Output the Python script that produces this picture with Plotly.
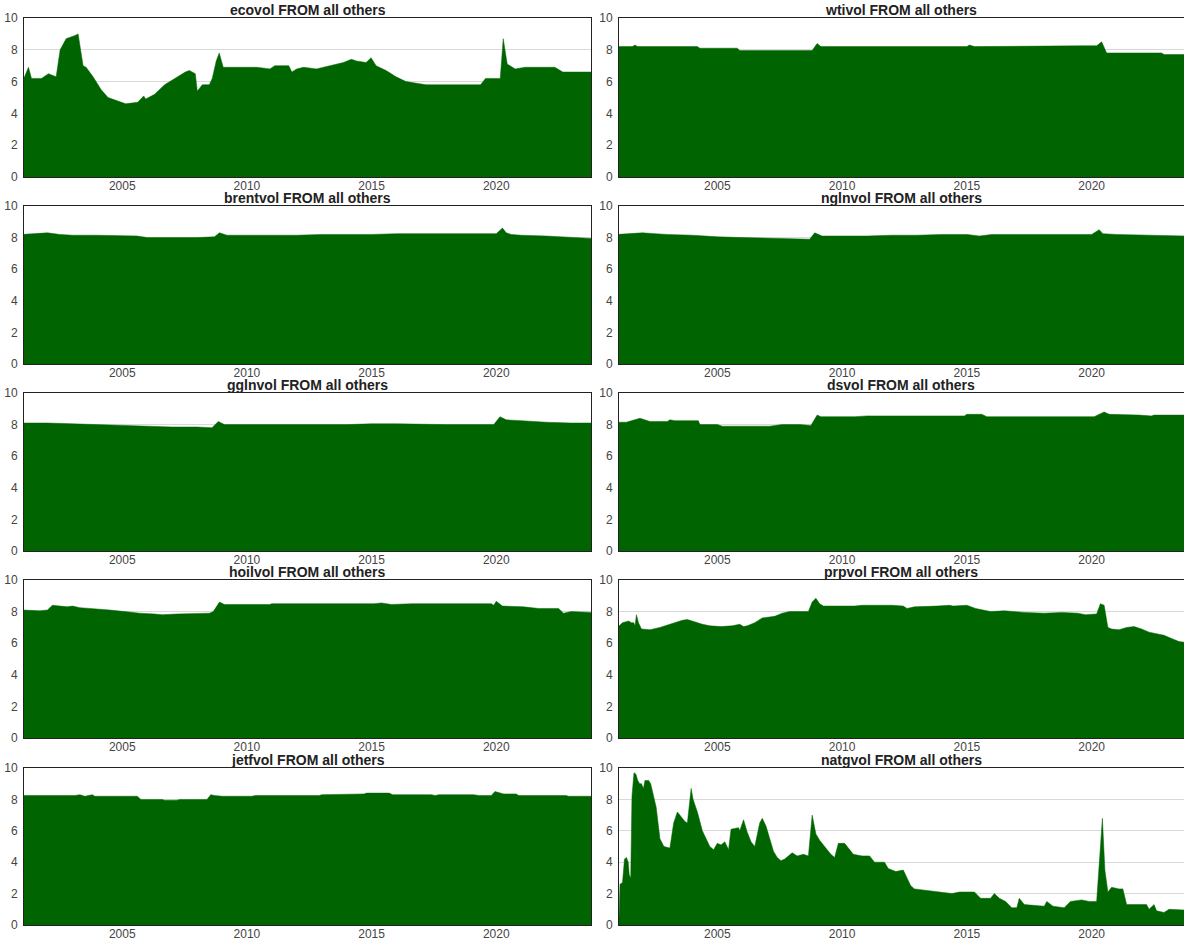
import plotly.graph_objects as go

# Total connectedness "FROM all others" for each volatility series (decimal years)
eco_x = [2001.0, 2001.24, 2001.36, 2001.76, 2002.04, 2002.35, 2002.51, 2002.75, 2003.11, 2003.23,
         2003.43, 2003.55, 2003.83, 2004.15, 2004.43, 2004.94, 2005.14, 2005.62, 2005.86, 2005.94,
         2006.3, 2006.7, 2007.1, 2007.53, 2007.69, 2007.93, 2008.01, 2008.21, 2008.49, 2008.61,
         2008.77, 2008.89, 2009.05, 2010.4, 2010.92, 2011.12, 2011.68, 2011.8, 2012.0, 2012.27,
         2012.79, 2013.31, 2013.87, 2014.19, 2014.39, 2014.78, 2014.98, 2015.18, 2015.58, 2015.98,
         2016.38, 2017.18, 2019.37, 2019.57, 2020.16, 2020.28, 2020.44, 2020.76, 2021.16, 2022.35,
         2022.67, 2023.8]
eco_y = [6.0, 6.9, 6.2, 6.2, 6.5, 6.3, 8.0, 8.7, 8.9, 9.0,
         7.0, 6.9, 6.3, 5.5, 5.0, 4.7, 4.6, 4.7, 5.1, 4.9,
         5.2, 5.8, 6.2, 6.6, 6.7, 6.5, 5.4, 5.8, 5.8, 6.2,
         7.3, 7.8, 6.9, 6.9, 6.8, 7.0, 7.0, 6.6, 6.8, 6.9,
         6.8, 7.0, 7.2, 7.4, 7.3, 7.2, 7.5, 7.0, 6.7, 6.3,
         6.0, 5.8, 5.8, 6.2, 6.2, 8.7, 7.1, 6.8, 6.9, 6.9,
         6.6, 6.6]

wti_x = [2001.0, 2001.6, 2001.7, 2001.8, 2004.2, 2004.3, 2005.8, 2005.9, 2008.8, 2009.0,
         2009.15, 2015.0, 2015.1, 2015.3, 2019.5, 2020.2, 2020.4, 2020.6, 2022.8, 2022.9, 2023.8]
wti_y = [8.2, 8.2, 8.3, 8.2, 8.2, 8.1, 8.1, 7.95, 7.95, 8.4,
         8.2, 8.2, 8.3, 8.2, 8.25, 8.25, 8.5, 7.8, 7.8, 7.7, 7.7]

brent_x = [2001.0, 2001.5, 2002.0, 2002.5, 2003.0, 2004.0, 2005.0, 2005.6, 2006.0, 2007.0,
           2008.0, 2008.7, 2008.9, 2009.2, 2010.0, 2011.0, 2012.0, 2013.0, 2014.0, 2015.0,
           2016.0, 2017.0, 2018.0, 2019.0, 2020.0, 2020.25, 2020.4, 2020.6, 2021.0, 2022.0,
           2023.0, 2023.8]
brent_y = [8.2, 8.25, 8.3, 8.2, 8.15, 8.15, 8.1, 8.1, 8.0, 8.0,
           8.0, 8.05, 8.3, 8.15, 8.15, 8.15, 8.15, 8.2, 8.2, 8.2,
           8.25, 8.25, 8.25, 8.25, 8.25, 8.6, 8.3, 8.2, 8.15, 8.1,
           8.0, 7.95]

ngl_x = [2001.0, 2001.5, 2002.0, 2002.5, 2003.0, 2004.0, 2005.0, 2006.0, 2007.0, 2008.0,
         2008.7, 2008.9, 2009.2, 2010.0, 2011.0, 2012.0, 2013.0, 2014.0, 2015.0, 2015.5,
         2016.0, 2017.0, 2018.0, 2019.0, 2020.0, 2020.3, 2020.45, 2021.0, 2022.0, 2023.0,
         2023.8]
ngl_y = [8.2, 8.25, 8.3, 8.25, 8.2, 8.15, 8.05, 8.0, 7.95, 7.9,
         7.9, 8.3, 8.1, 8.1, 8.1, 8.15, 8.15, 8.2, 8.2, 8.1,
         8.2, 8.2, 8.2, 8.2, 8.2, 8.5, 8.25, 8.2, 8.15, 8.1,
         8.1]

ggl_x = [2001.0, 2002.0, 2003.0, 2004.0, 2005.0, 2006.0, 2007.0, 2008.0, 2008.6, 2008.85,
         2009.1, 2010.0, 2012.0, 2014.0, 2015.0, 2016.0, 2018.0, 2019.9, 2020.15, 2020.4,
         2021.0, 2022.0, 2023.0, 2023.8]
ggl_y = [8.1, 8.1, 8.05, 8.0, 7.95, 7.9, 7.85, 7.85, 7.8, 8.2,
         8.0, 8.0, 8.0, 8.0, 8.05, 8.05, 8.0, 8.0, 8.5, 8.3,
         8.25, 8.15, 8.1, 8.1]

ds_x = [2001.0, 2001.35, 2001.9, 2002.3, 2003.0, 2003.1, 2003.3, 2004.24, 2004.3, 2005.0,
        2005.2, 2007.1, 2007.6, 2008.3, 2008.75, 2009.0, 2009.15, 2010.5, 2011.0, 2014.9,
        2015.0, 2015.6, 2015.8, 2020.1, 2020.5, 2020.7, 2021.9, 2022.4, 2022.5, 2023.8]
ds_y = [8.15, 8.15, 8.4, 8.2, 8.2, 8.3, 8.25, 8.25, 8.0, 8.0,
        7.9, 7.9, 8.0, 8.0, 7.95, 8.6, 8.5, 8.5, 8.55, 8.55,
        8.65, 8.65, 8.5, 8.5, 8.8, 8.65, 8.6, 8.55, 8.6, 8.6]

hoil_x = [2001.0, 2001.7, 2002.0, 2002.2, 2002.8, 2003.0, 2003.3, 2003.8, 2004.5, 2005.1,
          2005.7, 2006.3, 2006.6, 2007.2, 2007.9, 2008.5, 2008.65, 2008.9, 2009.1, 2010.9,
          2011.0, 2015.1, 2015.4, 2015.8, 2016.6, 2019.8, 2019.9, 2020.0, 2020.25, 2021.1,
          2021.7, 2022.5, 2022.7, 2023.0, 2023.8]
hoil_y = [8.1, 8.05, 8.1, 8.4, 8.3, 8.35, 8.25, 8.2, 8.1, 8.0,
          7.9, 7.85, 7.8, 7.85, 7.9, 7.9, 8.0, 8.6, 8.45, 8.45,
          8.5, 8.5, 8.55, 8.45, 8.5, 8.5, 8.4, 8.65, 8.35, 8.3,
          8.2, 8.2, 7.9, 8.0, 7.95]

prp_x = [2001.0, 2001.2, 2001.45, 2001.55, 2001.65, 2001.7, 2001.76, 2001.84, 2001.96, 2002.3,
         2002.7, 2003.0, 2003.15, 2003.6, 2003.8, 2004.0, 2004.4, 2004.7, 2005.15, 2005.6,
         2005.9, 2006.05, 2006.2, 2006.5, 2006.8, 2007.3, 2007.6, 2007.9, 2008.65, 2008.8,
         2008.95, 2009.1, 2009.25, 2010.5, 2010.8, 2012.0, 2012.45, 2012.6, 2012.9, 2013.8,
         2014.3, 2014.45, 2015.0, 2015.35, 2015.65, 2015.95, 2016.5, 2017.3, 2018.1, 2018.8,
         2019.45, 2019.75, 2020.2, 2020.35, 2020.5, 2020.65, 2020.8, 2021.1, 2021.4, 2021.7,
         2022.0, 2022.3, 2022.6, 2022.9, 2023.2, 2023.5, 2023.8]
prp_y = [7.0, 7.3, 7.4, 7.3, 7.3, 7.1, 7.8, 7.3, 6.9, 6.85,
         7.0, 7.15, 7.2, 7.45, 7.5, 7.4, 7.2, 7.1, 7.05, 7.1,
         7.2, 7.05, 7.1, 7.3, 7.6, 7.7, 7.9, 8.0, 8.0, 8.6,
         8.85, 8.5, 8.35, 8.35, 8.4, 8.4, 8.35, 8.2, 8.3, 8.35,
         8.4, 8.35, 8.4, 8.2, 8.1, 8.0, 8.05, 7.95, 7.9, 7.95,
         7.9, 7.8, 7.85, 8.5, 8.4, 7.0, 6.9, 6.85, 7.0, 7.05,
         6.9, 6.7, 6.6, 6.5, 6.3, 6.1, 6.05]

jet_x = [2001.0, 2003.1, 2003.3, 2003.5, 2003.8, 2003.9, 2005.6, 2005.75, 2006.6, 2006.7,
         2007.2, 2007.3, 2008.4, 2008.55, 2008.7, 2009.0, 2010.2, 2010.35, 2012.9, 2013.0,
         2014.7, 2014.8, 2015.7, 2015.85, 2017.4, 2017.55, 2017.7, 2019.1, 2019.3, 2019.8,
         2019.95, 2020.2, 2020.3, 2020.8, 2020.9, 2022.8, 2022.9, 2023.8]
jet_y = [8.25, 8.25, 8.3, 8.2, 8.3, 8.2, 8.2, 8.0, 8.0, 7.95,
         7.95, 8.0, 8.0, 8.3, 8.25, 8.2, 8.2, 8.25, 8.25, 8.3,
         8.35, 8.4, 8.4, 8.3, 8.3, 8.25, 8.3, 8.3, 8.25, 8.25,
         8.5, 8.4, 8.35, 8.35, 8.25, 8.25, 8.2, 8.2]

natg_x = [2001.02, 2001.06, 2001.1, 2001.2, 2001.28, 2001.36, 2001.43, 2001.47, 2001.53, 2001.58,
          2001.66, 2001.74, 2001.81, 2001.89, 2001.96, 2002.04, 2002.1, 2002.25, 2002.33, 2002.4,
          2002.55, 2002.7, 2002.86, 2003.1, 2003.25, 2003.4, 2003.55, 2003.7, 2003.8, 2003.95,
          2004.03, 2004.2, 2004.4, 2004.7, 2004.85, 2005.0, 2005.15, 2005.3, 2005.45, 2005.55,
          2005.85, 2005.9, 2006.05, 2006.2, 2006.35, 2006.5, 2006.7, 2006.8, 2006.95, 2007.1,
          2007.25, 2007.4, 2007.55, 2007.7, 2008.0, 2008.2, 2008.45, 2008.65, 2008.8, 2008.95,
          2009.1, 2009.25, 2009.55, 2009.7, 2009.85, 2010.1, 2010.3, 2010.45, 2010.8, 2011.1,
          2011.3, 2011.7, 2011.85, 2012.15, 2012.45, 2012.55, 2012.75, 2012.9, 2013.35, 2013.8,
          2014.4, 2014.7, 2015.3, 2015.55, 2015.95, 2016.1, 2016.3, 2016.55, 2016.8, 2017.0,
          2017.1, 2017.3, 2018.1, 2018.2, 2018.45, 2018.9, 2019.15, 2019.6, 2019.9, 2020.2,
          2020.3, 2020.43, 2020.53, 2020.65, 2020.8, 2021.1, 2021.25, 2021.4, 2022.2, 2022.3,
          2022.5, 2022.6, 2022.9, 2023.1, 2023.8]
natg_y = [0.2, 0.5, 2.6, 2.7, 4.2, 4.3, 4.0, 3.2, 3.0, 8.2,
          9.7, 9.6, 9.2, 9.0, 9.0, 8.7, 9.2, 9.2, 9.0, 8.5,
          7.5, 5.5, 5.0, 4.9, 6.5, 7.2, 6.9, 6.6, 6.5, 8.7,
          8.0, 7.2, 6.0, 5.0, 4.8, 5.2, 5.1, 5.3, 4.8, 6.1,
          6.2, 6.0, 6.7, 5.9, 5.3, 5.0, 6.5, 6.8, 6.3, 5.5,
          4.7, 4.3, 4.1, 4.2, 4.6, 4.4, 4.5, 4.4, 7.0, 5.8,
          5.4, 5.1, 4.5, 4.3, 5.2, 5.2, 4.8, 4.5, 4.4, 4.4,
          4.0, 4.0, 3.6, 3.4, 3.5, 3.2, 2.5, 2.3, 2.2, 2.1,
          2.0, 2.1, 2.1, 1.7, 1.7, 2.0, 1.7, 1.5, 1.1, 1.1,
          1.7, 1.3, 1.2, 1.5, 1.2, 1.1, 1.5, 1.6, 1.5, 1.5,
          4.0, 6.8, 3.5, 2.1, 2.4, 2.3, 2.3, 1.3, 1.3, 1.0,
          1.3, 0.9, 0.8, 1.0, 0.95]

panels = [
    ("ecovol FROM all others", eco_x, eco_y),
    ("wtivol FROM all others", wti_x, wti_y),
    ("brentvol FROM all others", brent_x, brent_y),
    ("nglnvol FROM all others", ngl_x, ngl_y),
    ("gglnvol FROM all others", ggl_x, ggl_y),
    ("dsvol FROM all others", ds_x, ds_y),
    ("hoilvol FROM all others", hoil_x, hoil_y),
    ("prpvol FROM all others", prp_x, prp_y),
    ("jetfvol FROM all others", jet_x, jet_y),
    ("natgvol FROM all others", natg_x, natg_y),
]

year_ticks = [2005, 2010, 2015, 2020]
value_ticks = [0, 2, 4, 6, 8, 10]

W, H = 1184, 941
col_px = [(24, 591), (619, 1184)]
col_range = [[2001.06, 2023.8], [2001.06, 2023.7]]
row_px = [(18, 177), (206, 364), (393, 551), (580, 738), (768, 925)]

FILL = "#006400"
TEXT = "#444444"

fig = go.Figure()
layout = dict(
    width=W, height=H,
    margin=dict(l=0, r=0, t=0, b=0),
    paper_bgcolor="white", plot_bgcolor="white",
    showlegend=False,
    font=dict(family="Liberation Sans, Arial, sans-serif", size=12, color=TEXT),
)
annotations = []

for i, (title, xs, ys) in enumerate(panels):
    r, c = divmod(i, 2)
    n = i + 1
    xa = "x" if n == 1 else f"x{n}"
    ya = "y" if n == 1 else f"y{n}"
    fig.add_trace(go.Scatter(
        x=xs, y=ys, xaxis=xa, yaxis=ya,
        mode="lines", fill="tozeroy",
        line=dict(color=FILL, width=0.5),
        fillcolor=FILL, hoverinfo="skip",
    ))
    x0, x1 = col_px[c]
    top, bot = row_px[r]
    dom_x = [x0 / W, x1 / W]
    dom_y = [1 - bot / H, 1 - top / H]
    layout[f"xaxis{'' if n == 1 else n}"] = dict(
        domain=dom_x, anchor=ya, range=col_range[c],
        tickvals=year_ticks, ticktext=[str(t) for t in year_ticks],
        showgrid=False, zeroline=False,
        showline=True, linecolor="#222222", linewidth=1, mirror=True,
        ticks="", ticklabelstandoff=-2,
        tickfont=dict(size=12, color=TEXT), automargin=False,
    )
    layout[f"yaxis{'' if n == 1 else n}"] = dict(
        domain=dom_y, anchor=xa, range=[0, 10],
        tickvals=value_ticks,
        showgrid=True, gridcolor="#d9d9d9", gridwidth=1, zeroline=False,
        showline=True, linecolor="#222222", linewidth=1, mirror=True,
        ticks="", ticklabelstandoff=3,
        tickfont=dict(size=12, color=TEXT), automargin=False,
    )
    annotations.append(dict(
        text=f"<b>{title}</b>", xref="paper", yref="paper",
        x=(dom_x[0] + dom_x[1]) / 2, y=dom_y[1],
        xanchor="center", yanchor="middle", yshift=8, showarrow=False,
        font=dict(size=14, color="#222222", family="Liberation Sans, Arial, sans-serif"),
    ))

layout["annotations"] = annotations
fig.update_layout(**layout)
fig.write_html("out.html")
